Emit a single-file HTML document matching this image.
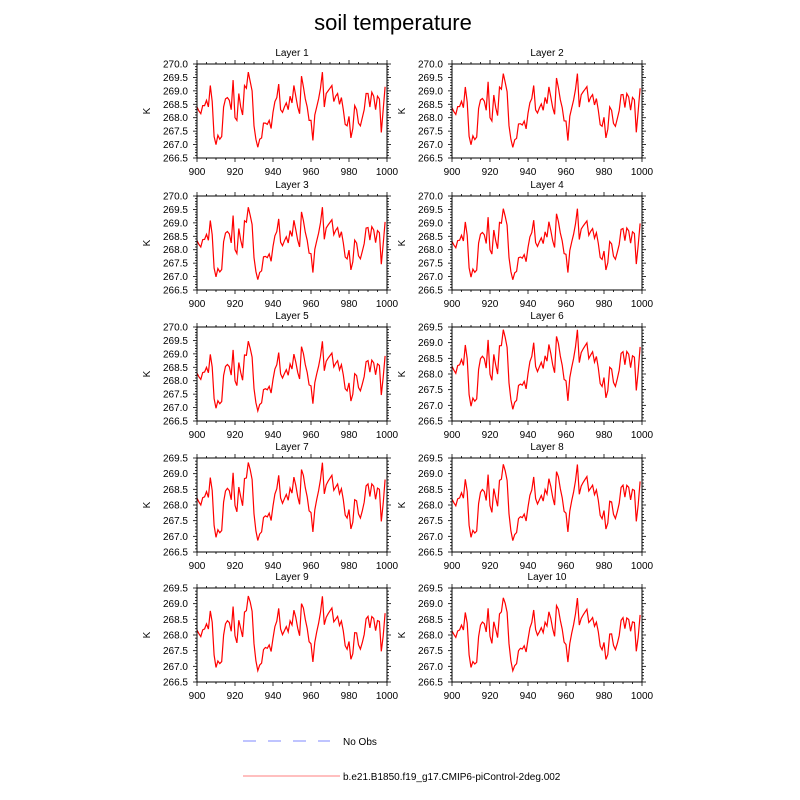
<!DOCTYPE html>
<html><head><meta charset="utf-8"><style>
body{margin:0;background:#fff;width:800px;height:800px;overflow:hidden}
svg{display:block;font-family:"Liberation Sans",sans-serif}
</style></head><body>
<svg id="s" width="800" height="800" xmlns="http://www.w3.org/2000/svg">
<text x="393" y="30" font-size="22" text-anchor="middle">soil temperature</text>
<line x1="243" y1="741" x2="330" y2="741" stroke="#aab0ff" stroke-width="1.5" stroke-dasharray="13,12"/>
<text x="343" y="745" font-size="10">No Obs</text>
<line x1="243" y1="776" x2="340" y2="776" stroke="#ffaaaa" stroke-width="1.5"/>
<text x="343" y="780" font-size="10">b.e21.B1850.f19_g17.CMIP6-piControl-2deg.002</text>
</svg>
<script>
var v=[268.4,268.25,268.15,268.45,268.45,268.65,268.4,269.2,268.6,267.3,267.0,267.35,267.2,267.3,268.4,268.7,268.75,268.65,268.3,269.4,268.0,267.9,268.9,268.4,268.1,269.2,269.1,269.7,269.35,269.0,267.7,267.2,266.9,267.2,267.25,267.8,267.8,267.75,267.9,267.6,268.2,268.6,268.75,269.25,268.3,268.2,268.4,268.55,268.3,268.8,268.55,269.2,268.8,268.4,268.15,269.55,269.15,268.7,268.4,267.9,267.9,267.15,268.1,268.4,268.7,269.1,269.7,268.4,268.9,269.0,269.1,269.2,268.6,268.8,268.9,268.5,268.75,268.3,267.75,267.7,268.05,267.25,267.6,268.45,268.3,267.8,267.7,268.0,268.3,268.9,268.9,268.4,268.95,268.8,268.3,268.8,268.7,267.45,268.3,269.15];
var m=0;v.forEach(function(a){m+=a});m/=v.length;
var s=document.getElementById('s'),h='';
var tops=[64,196,327,458,588],ph=94;
for(var k=0;k<10;k++){
 var col=k%2,row=Math.floor(k/2);
 var x0=col?452:197,x1=col?642:387,y0=tops[row],y1=y0+ph;
 var ymax=k<5?270:269.5,ymin=266.5;
 var mean=m-0.03*k, amp=1-0.012*k;
 var X=function(t){return x0+(t-900)*(x1-x0)/100};
 var Y=function(a){return y1-(a-ymin)*(y1-y0)/(ymax-ymin)};
 var p='',prev=v[0];
 for(var i=0;i<100;i++){var w=v[i]*(1-0.02*k)+prev*0.02*k;prev=w;var a=mean+amp*(w-m);p+=(i?'L':'M')+X(900+i).toFixed(1)+','+Y(a).toFixed(1);}
 h+='<path d="'+p+'" fill="none" stroke="#f00" stroke-width="1.2"/>';
 h+='<rect x="'+x0+'" y="'+y0+'" width="'+(x1-x0)+'" height="'+ph+'" fill="none" stroke="#000" stroke-width="1"/>';
 h+='<text x="'+((x0+x1)/2)+'" y="'+(y0-8)+'" font-size="10" text-anchor="middle">Layer '+(k+1)+'</text>';
 for(var t=900;t<=1000;t+=5){var xx=X(t),L=t%20==0?4:2;
  h+='<line x1="'+xx+'" y1="'+y1+'" x2="'+xx+'" y2="'+(y1+L)+'" stroke="#000" stroke-width="0.8"/><line x1="'+xx+'" y1="'+y0+'" x2="'+xx+'" y2="'+(y0-L)+'" stroke="#000" stroke-width="0.8"/>';
  if(t%20==0)h+='<text x="'+xx+'" y="'+(y1+17)+'" font-size="10" text-anchor="middle">'+t+'</text>';}
 for(var q=0;q<=Math.round((ymax-ymin)*10);q++){var a=ymin+q/10,yy=Y(a),L=q%5==0?4:2;
  h+='<line x1="'+x0+'" y1="'+yy+'" x2="'+(x0-L)+'" y2="'+yy+'" stroke="#000" stroke-width="0.8"/><line x1="'+x1+'" y1="'+yy+'" x2="'+(x1+L)+'" y2="'+yy+'" stroke="#000" stroke-width="0.8"/>';
  if(q%5==0)h+='<text x="'+(x0-9)+'" y="'+(yy+3.5)+'" font-size="10" text-anchor="end">'+a.toFixed(1)+'</text>';}
 var ky=(y0+y1)/2;
 h+='<text x="'+(x0-47)+'" y="'+ky+'" font-size="10" text-anchor="middle" transform="rotate(-90 '+(x0-47)+' '+ky+')">K</text>';
}
s.insertAdjacentHTML('beforeend',h);
</script>
</body></html>
